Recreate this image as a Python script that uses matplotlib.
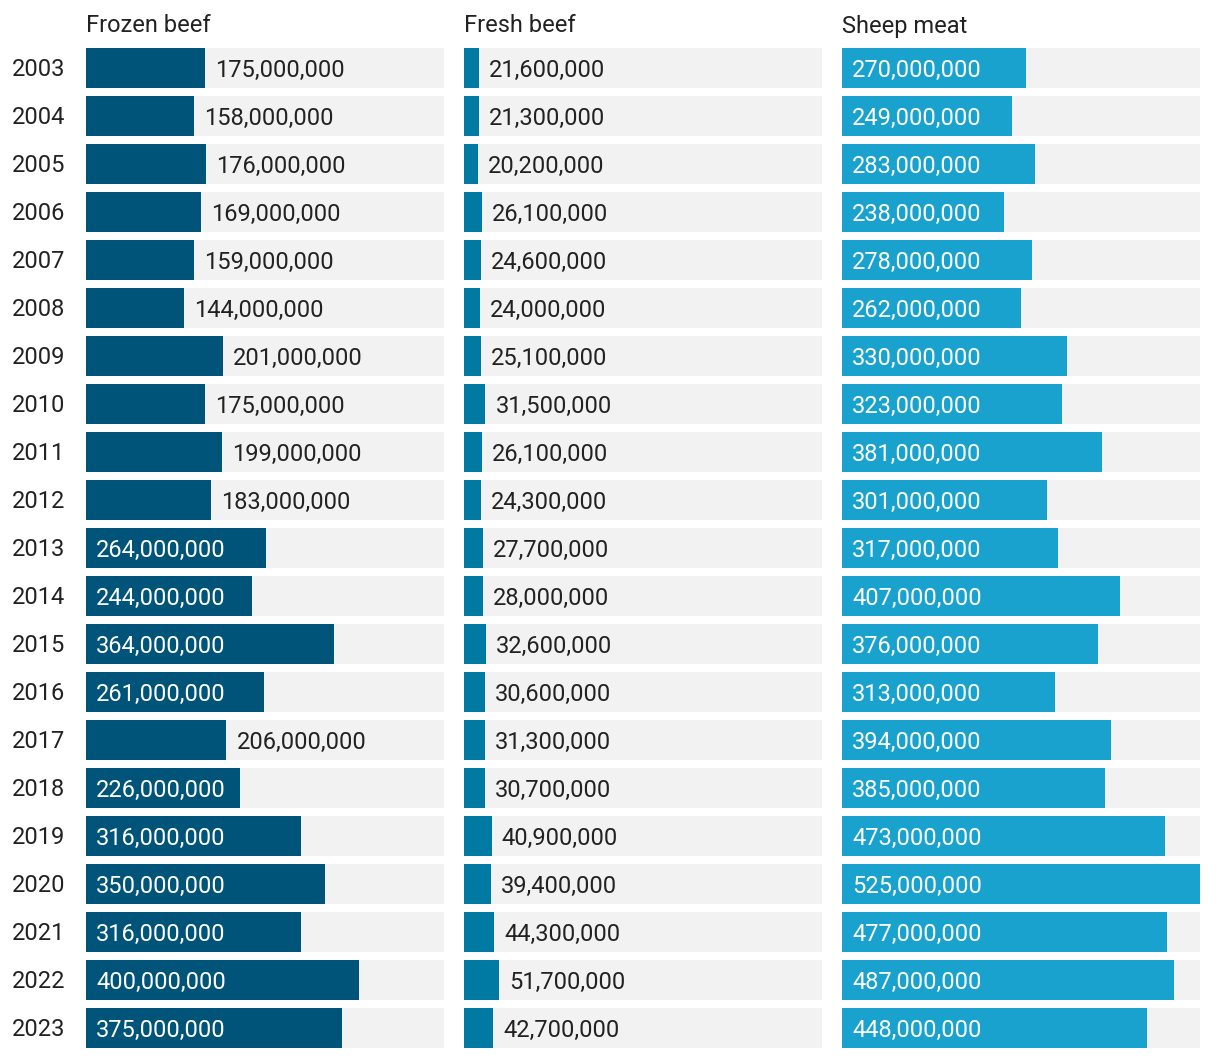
import matplotlib
matplotlib.use("Agg")
import matplotlib.pyplot as plt

plt.rcParams['font.family'] = ['Roboto', 'DejaVu Sans']

years = list(range(2003, 2024))
titles = ["Frozen beef", "Fresh beef", "Sheep meat"]
frozen = [175e6, 158e6, 176e6, 169e6, 159e6, 144e6, 201e6, 175e6, 199e6, 183e6,
          264e6, 244e6, 364e6, 261e6, 206e6, 226e6, 316e6, 350e6, 316e6, 400e6, 375e6]
fresh = [21.6e6, 21.3e6, 20.2e6, 26.1e6, 24.6e6, 24.0e6, 25.1e6, 31.5e6, 26.1e6, 24.3e6,
         27.7e6, 28.0e6, 32.6e6, 30.6e6, 31.3e6, 30.7e6, 40.9e6, 39.4e6, 44.3e6, 51.7e6, 42.7e6]
sheep = [270e6, 249e6, 283e6, 238e6, 278e6, 262e6, 330e6, 323e6, 381e6, 301e6,
         317e6, 407e6, 376e6, 313e6, 394e6, 385e6, 473e6, 525e6, 477e6, 487e6, 448e6]
series = [frozen, fresh, sheep]
colors = ["#005479", "#0079a3", "#19a2ce"]

W, H = 1220, 1058
fig = plt.figure(figsize=(W / 100, H / 100), dpi=100)
xmax = max(max(s) for s in series)
lefts = [86, 464, 842]
pw = 358
top_px, bot_px = 44, 1052
n = len(years)
fs = 17
txt = "#222222"
dy = -2

for i, (vals, title, col) in enumerate(zip(series, titles, colors)):
    ax = fig.add_axes([lefts[i] / W, (H - bot_px) / H, pw / W, (bot_px - top_px) / H])
    ax.set_xlim(0, xmax)
    ax.set_ylim(n - 0.5, -0.5)
    ax.axis('off')
    pos = list(range(n))
    ax.barh(pos, [xmax] * n, height=40 / 48, color="#f2f2f2", left=0)
    ax.barh(pos, vals, height=40 / 48, color=col)
    for y, v in zip(pos, vals):
        label = f"{int(round(v)):,}"
        bar_px = v / xmax * pw
        if bar_px > 150:
            ax.annotate(label, (0, y), xytext=(10, dy), textcoords='offset pixels',
                        va='center', ha='left', fontsize=fs, color='white')
        else:
            ax.annotate(label, (v, y), xytext=(10, dy), textcoords='offset pixels',
                        va='center', ha='left', fontsize=fs, color=txt)
    fig.text(lefts[i] / W, 1 - 26 / H, title, fontsize=fs, color=txt, va='center', ha='left')
    if i == 0:
        for y, yr in zip(pos, years):
            ax.annotate(str(yr), (0, y), xytext=(12 - 86, dy), textcoords='offset pixels',
                        va='center', ha='left', fontsize=fs, color=txt,
                        annotation_clip=False)

fig.savefig("out.png", dpi=100, facecolor="white")
